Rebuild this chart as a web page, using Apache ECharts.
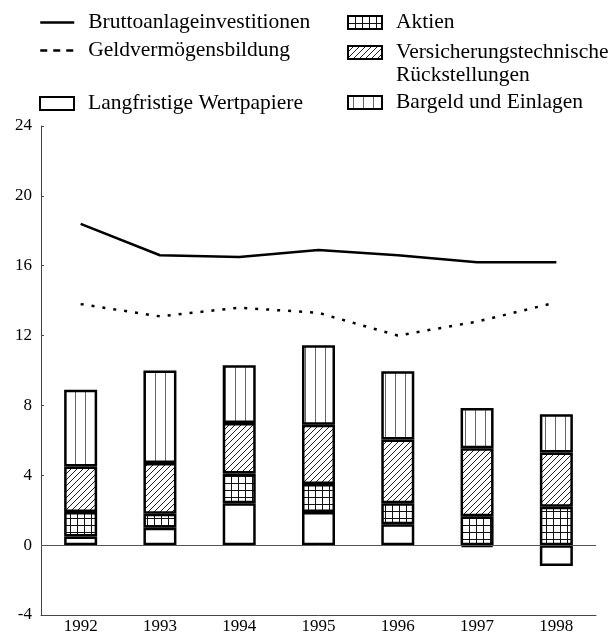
<!DOCTYPE html>
<html>
<head>
<meta charset="utf-8">
<script src="https://cdn.jsdelivr.net/npm/echarts@6/dist/echarts.min.js"></script>
<style>
  html, body { margin: 0; padding: 0; background: #fff; }
  #chart { width: 615px; height: 635px; }
</style>
</head>
<body>
<div id="chart"></div>
<script>
// Jahre
const years = ["1992", "1993", "1994", "1995", "1996", "1997", "1998"];
// Linien (in % des BIP)
const brutto = [18.4, 16.6, 16.5, 16.9, 16.6, 16.2, 16.2];
const geld = [13.8, 13.1, 13.6, 13.3, 12.0, 12.8, 13.9];
// gestapelte Balken
const langfristig = [0.5, 1.0, 2.4, 1.9, 1.2, -0.1, -1.2];
const aktien = [1.4, 0.8, 1.7, 1.6, 1.2, 1.65, 2.2];
const versicherung = [2.6, 2.9, 2.9, 3.4, 3.65, 3.9, 3.1];
const bargeld = [4.4, 5.3, 3.3, 4.55, 3.9, 2.3, 2.2];
// y-Achse
const yMin = -4;
const yMax = 24;
const yStep = 4;

const serif = "Liberation Serif";

// kleine Kachelmuster fuer die Schraffuren
function makePattern(w, h, draw) {
  const c = document.createElement("canvas");
  c.width = w;
  c.height = h;
  const ctx = c.getContext("2d");
  ctx.fillStyle = "#fff";
  ctx.fillRect(0, 0, w, h);
  draw(ctx);
  return { image: c, repeat: "repeat" };
}
const gridPattern = makePattern(7, 7, ctx => {
  ctx.fillStyle = "#111";
  ctx.fillRect(0, 0, 1, 7);
  ctx.fillRect(0, 0, 7, 1);
});
const diagPattern = makePattern(6, 6, ctx => {
  ctx.strokeStyle = "#222";
  ctx.lineWidth = 1;
  ctx.beginPath();
  ctx.moveTo(0, 6); ctx.lineTo(6, 0);
  ctx.moveTo(-1, 1); ctx.lineTo(1, -1);
  ctx.moveTo(5, 7); ctx.lineTo(7, 5);
  ctx.stroke();
});
const vertPattern = makePattern(10, 10, ctx => {
  ctx.fillStyle = "#666";
  ctx.fillRect(5, 0, 1, 10);
});

const barBorder = { borderColor: "#000", borderWidth: 2.5 };

const legendText = {
  fontFamily: serif,
  fontSize: 21.5,
  color: "#000",
  lineHeight: 23,
  padding: [0, 0, 0, 9]
};
function legendItem(name, left, top, extra) {
  return Object.assign({
    data: [name],
    left: left,
    top: top,
    padding: 0,
    itemWidth: 34,
    itemHeight: 13,
    selectedMode: false,
    textStyle: legendText
  }, extra || {});
}
// bei Linien nur die Linie zeigen, keinen Punkt
const noDot = { color: "transparent", borderColor: "transparent", borderWidth: 0, opacity: 0 };

const chart = echarts.init(document.getElementById("chart"));
const option = {
  animation: false,
  backgroundColor: "#fff",
  legend: [
    legendItem("Bruttoanlageinvestitionen", 39, 11, {
      itemStyle: noDot,
      lineStyle: { color: "#000", width: 2.5 }
    }),
    legendItem("Geldvermögensbildung", 39, 39, {
      itemStyle: noDot,
      lineStyle: { color: "#000", width: 2.5, type: [7, 6] }
    }),
    legendItem("Langfristige Wertpapiere", 39, 92, { icon: "rect" }),
    legendItem("Aktien", 347, 11, { icon: "rect" }),
    legendItem("Versicherungstechnische\nRückstellungen", 347, 18, {
      icon: "rect",
      // leere erste Zeile, damit das Kaestchen neben der ersten Textzeile steht
      formatter: name => "\n" + name
    }),
    legendItem("Bargeld und Einlagen", 347, 91, { icon: "rect" })
  ],
  grid: {
    left: 41,
    right: 19,
    top: 126,
    bottom: 19
  },
  xAxis: {
    type: "category",
    data: years,
    boundaryGap: true,
    axisLine: { onZero: false, lineStyle: { color: "#444", width: 1 } },
    axisTick: { inside: true, length: 4, lineStyle: { color: "#444" } },
    axisLabel: { fontFamily: serif, fontSize: 17, color: "#000", margin: 3 }
  },
  yAxis: {
    type: "value",
    min: yMin,
    max: yMax,
    interval: yStep,
    splitLine: { show: false },
    axisLine: { show: true, lineStyle: { color: "#444", width: 1 } },
    axisTick: { show: true, inside: true, length: 3, lineStyle: { color: "#444" } },
    axisLabel: { fontFamily: serif, fontSize: 17, color: "#000", margin: 9 }
  },
  series: [
    {
      name: "Langfristige Wertpapiere",
      type: "bar",
      stack: "v",
      barWidth: 33,
      data: langfristig,
      itemStyle: Object.assign({ color: "#fff" }, barBorder),
      markLine: {
        silent: true,
        symbol: "none",
        label: { show: false },
        lineStyle: { color: "#555", width: 1, type: "solid" },
        data: [{ yAxis: 0 }]
      }
    },
    {
      name: "Aktien",
      type: "bar",
      stack: "v",
      barWidth: 33,
      data: aktien,
      itemStyle: Object.assign({ color: gridPattern }, barBorder)
    },
    {
      name: "Versicherungstechnische\nRückstellungen",
      type: "bar",
      stack: "v",
      barWidth: 33,
      data: versicherung,
      itemStyle: Object.assign({ color: diagPattern }, barBorder)
    },
    {
      name: "Bargeld und Einlagen",
      type: "bar",
      stack: "v",
      barWidth: 33,
      data: bargeld,
      itemStyle: Object.assign({ color: vertPattern }, barBorder)
    },
    {
      name: "Bruttoanlageinvestitionen",
      type: "line",
      symbol: "none",
      data: brutto,
      itemStyle: { color: "#000" },
      lineStyle: { color: "#000", width: 2.5 }
    },
    {
      name: "Geldvermögensbildung",
      type: "line",
      symbol: "none",
      data: geld,
      itemStyle: { color: "#000" },
      lineStyle: { color: "#000", width: 2.5, type: [3, 8] }
    }
  ]
};
chart.setOption(option);
</script>
</body>
</html>
